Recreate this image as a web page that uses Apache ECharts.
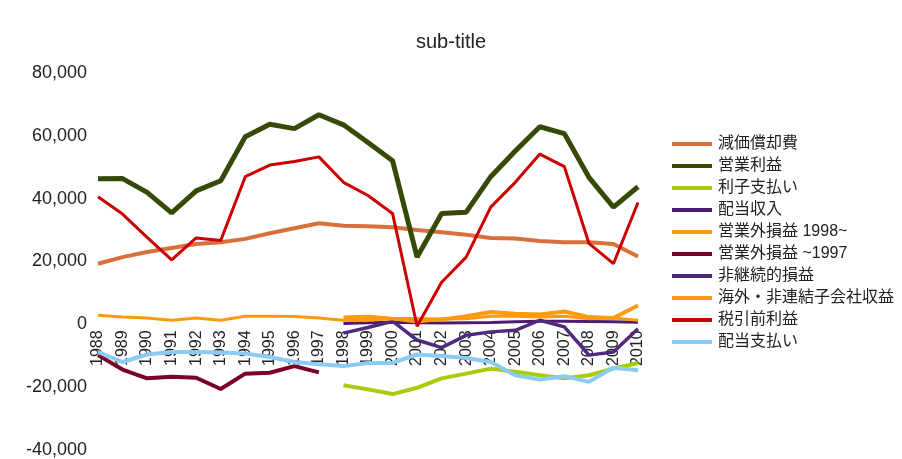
<!DOCTYPE html>
<html>
<head>
<meta charset="utf-8">
<script src="https://cdn.jsdelivr.net/npm/echarts@6/dist/echarts.min.js"></script>
<style>html,body{margin:0;padding:0;background:#fff}#c{width:902px;height:459px}</style>
</head>
<body>
<div id="c"></div>
<script>
const years = ['1988','1989','1990','1991','1992','1993','1994','1995','1996','1997','1998','1999','2000','2001','2002','2003','2004','2005','2006','2007','2008','2009','2010'];
const yTicks = [-40000, -20000, 0, 20000, 40000, 60000, 80000];

const depreciation = [19300,21400,23000,24300,25600,26100,27200,29000,30600,32200,31400,31200,30900,30000,29300,28500,27500,27300,26500,26100,26100,25600,21600];
const operatingProfit = [46300,46400,42000,35500,42500,45700,59700,63700,62300,66700,63500,57900,52100,21400,35300,35700,47000,55200,62900,60700,46800,37300,43800];
const interestPaid = [null,null,null,null,null,null,null,null,null,null,-19400,-20700,-22200,-20200,-17200,-15700,-14100,-15100,-16200,-17200,-16200,-14100,-12300];
const dividendIncome = [null,null,null,null,null,null,null,null,null,null,300,500,700,500,400,500,600,800,1000,1000,900,800,700];
const nonOpFrom1998 = [null,null,null,null,null,null,null,null,null,null,2200,2400,1800,1700,1500,2600,3900,3400,3100,4100,2300,2000,6000];
const nonOpTo1997 = [-9800,-14400,-17200,-16700,-17000,-20600,-15700,-15400,-13300,-15300,null,null,null,null,null,null,null,null,null,null,null,null,null];
const extraordinary = [null,null,null,null,null,null,null,null,null,null,-2800,-1000,1000,-5000,-7400,-3500,-2400,-1900,1300,-800,-9800,-8800,-1400];
const overseasIncome = [2900,2300,2000,1300,2000,1300,2600,2600,2500,2000,1300,1300,1800,700,1700,1800,2600,2600,2300,2600,1800,2000,1300];
const pretaxProfit = [40600,35100,27700,20500,27500,26700,47000,50700,51800,53300,45200,41000,35300,-600,13400,21400,37300,45200,54200,50200,25800,19300,38800];
const dividendsPaid = [-8800,-12000,-9600,-8800,-8800,-9000,-9300,-10400,-12000,-12700,-13300,-12300,-12300,-9600,-10100,-10700,-12000,-16200,-17600,-16500,-18300,-13800,-14600];

const FONT = "'Liberation Sans', 'Noto Sans CJK JP', sans-serif";
const W = 902, H = 459;
const GRID = { left: 98, right: 264, top: 73, bottom: 9 };
const yMin = yTicks[0], yMax = yTicks[yTicks.length - 1];
// place the category labels at the zero line (v6 keeps labels at the grid edge even with onZero)
const plotH = H - GRID.top - GRID.bottom;
const zeroOffset = -((0 - yMin) / (yMax - yMin)) * plotH;

function line(name, data, color, width, z) {
  return { name, type: 'line', data, symbol: 'none', connectNulls: false, z: z || 2,
    lineStyle: { color, width }, itemStyle: { color } };
}

const chart = echarts.init(document.getElementById('c'), null, { renderer: 'canvas' });
chart.setOption({
  animation: false,
  backgroundColor: '#ffffff',
  title: { text: 'sub-title', left: 'center', top: 27,
    textStyle: { fontFamily: FONT, fontSize: 20, fontWeight: 'normal', color: '#222' } },
  grid: Object.assign({ containLabel: false, outerBoundsMode: 'none' }, GRID),
  legend: {
    orient: 'vertical', left: 667, top: 131, itemWidth: 40, itemHeight: 4, itemGap: 6,
    icon: 'rect',
    textStyle: { fontFamily: FONT, fontSize: 16, color: '#222', padding: [0,0,0,1] },
    data: ['減価償却費','営業利益','利子支払い','配当収入','営業外損益 1998~','営業外損益 ~1997','非継続的損益','海外・非連結子会社収益','税引前利益','配当支払い']
  },
  xAxis: {
    type: 'category', data: years, boundaryGap: false, offset: zeroOffset,
    axisLine: { show: false, onZero: false },
    axisTick: { show: false },
    axisLabel: { rotate: 90, margin: 6, fontFamily: FONT, fontSize: 16, color: '#222', interval: 0 },
    splitLine: { show: false }
  },
  yAxis: {
    type: 'value', min: yMin, max: yMax, interval: 20000,
    axisLine: { show: false }, axisTick: { show: false }, splitLine: { show: false },
    axisLabel: { margin: 11, fontFamily: FONT, fontSize: 18, color: '#222',
      formatter: v => v.toLocaleString('en-US') }
  },
  series: [
    line('減価償却費', depreciation, '#D9703C', 4),
    line('営業利益', operatingProfit, '#354A07', 5),
    line('利子支払い', interestPaid, '#A8CC0A', 4),
    line('配当収入', dividendIncome, '#4B1C70', 3),
    line('営業外損益 1998~', nonOpFrom1998, '#FF9A0F', 4),
    line('営業外損益 ~1997', nonOpTo1997, '#7A0026', 4),
    line('非継続的損益', extraordinary, '#4E2A7C', 3.5),
    line('海外・非連結子会社収益', overseasIncome, '#FF9A0F', 3),
    line('税引前利益', pretaxProfit, '#CC0000', 3, 3),
    line('配当支払い', dividendsPaid, '#8CCBF4', 4)
  ]
});
</script>
</body>
</html>
